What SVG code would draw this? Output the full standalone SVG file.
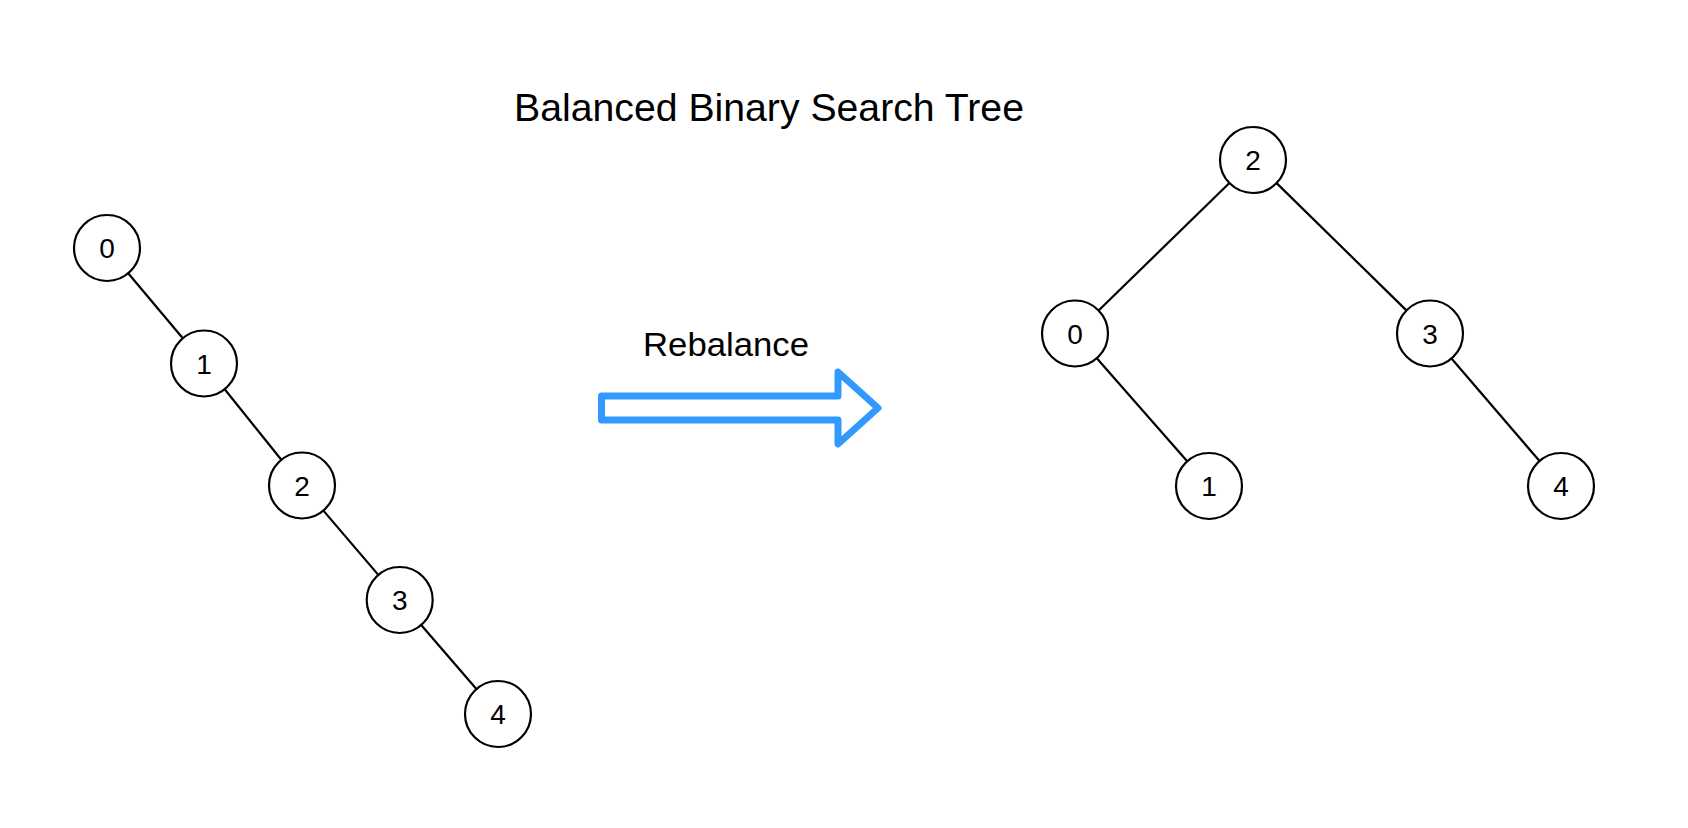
<svg xmlns="http://www.w3.org/2000/svg" width="1688" height="828" viewBox="0 0 1688 828">
<style>
.node circle{fill:#fff;stroke:#000;stroke-width:2.2}
.node text{font-family:"Liberation Sans",Arial,sans-serif;font-size:28px;text-anchor:middle;fill:#000}
#edges line{stroke:#000;stroke-width:2.2}
.lbl{font-family:"Liberation Sans",Arial,sans-serif;fill:#000;text-anchor:middle}
</style>
<rect width="1688" height="828" fill="#fff"/>
<text class="lbl" x="769" y="121" font-size="38.5" textLength="510" lengthAdjust="spacingAndGlyphs">Balanced Binary Search Tree</text>
<text class="lbl" x="726" y="356" font-size="33" textLength="166" lengthAdjust="spacingAndGlyphs">Rebalance</text>
<g id="rebalance-arrow">
<path d="M601.5 396 L838 396 L838 372 L878 408 L838 444 L838 420 L601.5 420 Z" fill="#fff" stroke="#3399ff" stroke-width="7" stroke-linejoin="round"/>
</g>
<g id="edges">
<line x1="128.2" y1="273.3" x2="182.8" y2="338.2"/>
<line x1="224.7" y1="389.2" x2="281.3" y2="459.8"/>
<line x1="323.4" y1="510.6" x2="378.3" y2="574.9"/>
<line x1="421.2" y1="625" x2="476.4" y2="689"/>
<line x1="1229.4" y1="183" x2="1098.6" y2="310.5"/>
<line x1="1276.6" y1="183.1" x2="1406.4" y2="310.4"/>
<line x1="1096.8" y1="358.3" x2="1187.2" y2="461.2"/>
<line x1="1451.5" y1="358.5" x2="1539.5" y2="461"/>
</g>
<g id="L0" class="node"><circle cx="107" cy="248" r="33"/><text x="107" y="258">0</text></g>
<g id="L1" class="node"><circle cx="204" cy="363.5" r="33"/><text x="204" y="373.5">1</text></g>
<g id="L2" class="node"><circle cx="302" cy="485.5" r="33"/><text x="302" y="495.5">2</text></g>
<g id="L3" class="node"><circle cx="399.7" cy="600" r="33"/><text x="399.7" y="610">3</text></g>
<g id="L4" class="node"><circle cx="498" cy="714" r="33"/><text x="498" y="724">4</text></g>
<g id="R2" class="node"><circle cx="1253" cy="160" r="33"/><text x="1253" y="170">2</text></g>
<g id="R0" class="node"><circle cx="1075" cy="333.5" r="33"/><text x="1075" y="343.5">0</text></g>
<g id="R3" class="node"><circle cx="1430" cy="333.5" r="33"/><text x="1430" y="343.5">3</text></g>
<g id="R1" class="node"><circle cx="1209" cy="486" r="33"/><text x="1209" y="496">1</text></g>
<g id="R4" class="node"><circle cx="1561" cy="486" r="33"/><text x="1561" y="496">4</text></g>
</svg>
